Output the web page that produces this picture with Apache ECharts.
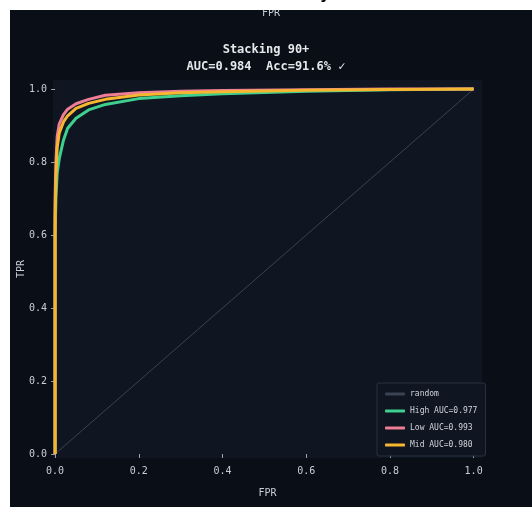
<!DOCTYPE html>
<html><head><meta charset="utf-8">
<script src="https://cdn.jsdelivr.net/npm/echarts@6/dist/echarts.min.js"></script>
<style>html,body{margin:0;padding:0;background:#fff}#c{width:532px;height:507px}</style>
</head><body><div id="c"></div>
<script>
const fpr = [0, 0, 0.002, 0.005, 0.01, 0.02, 0.03, 0.05, 0.08, 0.12, 0.2, 0.3, 0.4, 0.6, 0.8, 1.0];
const tprHigh = [0, 0.6, 0.7, 0.77, 0.81, 0.86, 0.893, 0.92, 0.943, 0.958, 0.974, 0.982, 0.987, 0.994, 0.998, 1.0];
const tprLow  = [0, 0.7, 0.8, 0.87, 0.905, 0.93, 0.945, 0.96, 0.972, 0.983, 0.99, 0.994, 0.996, 0.998, 1.0, 1.0];
const tprMid  = [0, 0.65, 0.76, 0.84, 0.88, 0.91, 0.927, 0.947, 0.961, 0.972, 0.984, 0.99, 0.993, 0.997, 0.999, 1.0];
const randomX = [0, 1];
const randomY = [0, 1];
const seriesNames = ['random', 'High AUC=0.977', 'Low AUC=0.993', 'Mid AUC=0.980'];
const tickValues = [0, 0.2, 0.4, 0.6, 0.8, 1.0];
const titleLines = ['Stacking 90+', 'AUC=0.984  Acc=91.6% \u2713'];

const zip = (xs, ys) => xs.map((x, i) => [x, ys[i]]);
const font = 'DejaVu Sans Mono';
const chart = echarts.init(document.getElementById('c'), null, {renderer: 'canvas'});
chart.setOption({
  backgroundColor: '#ffffff',
  animation: false,
  graphic: [
    {type: 'rect', z: -10, shape: {x: 10, y: 10, width: 522, height: 497}, style: {fill: '#0a0e17'}},
    {type: 'text', z: 5, left: 262, top: 8, style: {text: 'FPR', fill: '#c9ced6', font: '10px ' + font, textAlign: 'center'}},
    {type: 'rect', z: 10, shape: {x: 0, y: 0, width: 532, height: 10}, style: {fill: '#ffffff'}},
    {type: 'rect', z: 10, shape: {x: 0, y: 0, width: 10, height: 507}, style: {fill: '#ffffff'}},
    {type: 'text', z: 11, x: 325, y: -12, style: {text: 'y', fill: '#000', font: 'bold 15px DejaVu Sans', textAlign: 'center'}},
    {type: 'text', z: 5, x: 266, y: 41, style: {text: titleLines.join('\n'), fill: '#e5e7eb', font: 'bold 12px ' + font, textAlign: 'center', lineHeight: 17}}
  ],
  grid: {left: 53, right: 50, top: 80, bottom: 49, show: true, backgroundColor: '#0f1521', borderWidth: 0},
  xAxis: {
    type: 'value', min: -0.005, max: 1.02,
    name: 'FPR', nameLocation: 'middle', nameGap: 30, nameMoveOverlap: false,
    nameTextStyle: {color: '#c9ced6', fontSize: 10, fontFamily: font},
    axisLine: {show: false},
    axisTick: {show: true, length: 4, customValues: tickValues, lineStyle: {color: '#9ca3af'}},
    axisLabel: {customValues: tickValues, color: '#c9ced6', fontSize: 10, fontFamily: font, margin: 8, formatter: v => v.toFixed(1)},
    splitLine: {show: false}
  },
  yAxis: {
    type: 'value', min: -0.011, max: 1.025,
    name: 'TPR', nameLocation: 'middle', nameGap: 27, nameRotate: 90, nameMoveOverlap: false,
    nameTextStyle: {color: '#c9ced6', fontSize: 10, fontFamily: font},
    axisLine: {show: false},
    axisTick: {show: true, length: 4, customValues: tickValues, lineStyle: {color: '#9ca3af'}},
    axisLabel: {customValues: tickValues, color: '#c9ced6', fontSize: 10, fontFamily: font, margin: 6, formatter: v => v.toFixed(1)},
    splitLine: {show: false}
  },
  legend: {
    orient: 'vertical', left: 377, top: 383,
    backgroundColor: 'rgba(15,21,33,0.9)', borderColor: '#2b3340', borderWidth: 1, borderRadius: 2,
    padding: [6, 8, 6, 8], itemGap: 7, itemWidth: 20, itemHeight: 3, icon: 'roundRect',
    textStyle: {color: '#d1d5db', fontSize: 8, fontFamily: font, lineHeight: 10},
    data: seriesNames
  },
  series: [
    {name: seriesNames[0], type: 'line', data: zip(randomX, randomY), showSymbol: false, symbol: 'none',
     lineStyle: {color: '#3a4352', width: 1}, itemStyle: {color: '#3a4352'}, z: 1},
    {name: seriesNames[1], type: 'line', data: zip(fpr, tprHigh), showSymbol: false, symbol: 'none',
     lineStyle: {color: '#3fcf8e', width: 3}, itemStyle: {color: '#3fcf8e'}, z: 2},
    {name: seriesNames[2], type: 'line', data: zip(fpr, tprLow), showSymbol: false, symbol: 'none',
     lineStyle: {color: '#ee7d96', width: 3}, itemStyle: {color: '#ee7d96'}, z: 3},
    {name: seriesNames[3], type: 'line', data: zip(fpr, tprMid), showSymbol: false, symbol: 'none',
     lineStyle: {color: '#f5b730', width: 3}, itemStyle: {color: '#f5b730'}, z: 4}
  ]
});
</script></body></html>
